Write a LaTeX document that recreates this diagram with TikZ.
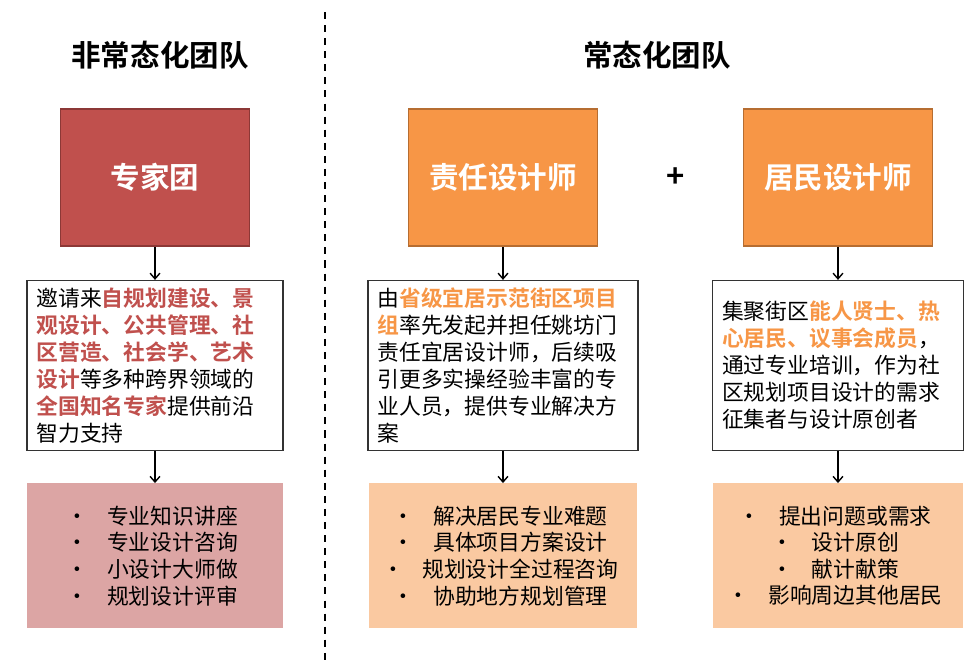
\documentclass[tikz,border=0pt]{standalone}
\usepackage{fontspec}
\setmainfont{Noto Sans CJK SC}[BoldFont={Noto Sans CJK SC Bold}]
\usetikzlibrary{positioning,arrows.meta}
\definecolor{teamred}{RGB}{192,80,77}
\definecolor{teamreddark}{RGB}{140,56,54}
\definecolor{teamorange}{RGB}{247,150,70}
\definecolor{teamorangedark}{RGB}{182,109,49}
\definecolor{teampink}{RGB}{220,165,164}
\definecolor{teampeach}{RGB}{250,201,161}
\newcommand{\hlred}[1]{\textbf{\color{teamred}#1}}
\newcommand{\hlorange}[1]{\textbf{\color{teamorange}#1}}
\newcommand{\bul}{\makebox[0.5em]{•}\hspace{1.1em}}

\begin{document}
\begin{tikzpicture}[x=0.025cm, y=-0.025cm,
    title/.style={font=\fontsize{21}{25}\selectfont\bfseries},
    rolebox/.style={fill=#1, minimum width=4.725cm, minimum height=3.425cm,
      text=white, font=\fontsize{21}{25}\selectfont\bfseries, line width=1.2pt},
    descbox/.style={draw=black!80, line width=0.8pt, fill=white, minimum height=4.25cm,
      inner xsep=0.24cm, align=left, font=\fontsize{15.5}{19.2}\selectfont},
    listbox/.style={fill=#1, minimum height=3.625cm, align=center,
      font=\fontsize{15.5}{18.9}\selectfont},
    flow/.style={-{Straight Barb[length=4pt,width=7pt]}, line width=1pt}]
  \useasboundingbox (0,0) rectangle (979,665);

  % separator
  \draw[line width=1.2pt, dash pattern=on 5pt off 4.3pt] (325,12) -- (325,665);

  % headings
  \node (titleA) at (160,55) [title] {非常态化团队};
  \node (titleB) at (657,55) [title] {常态化团队};

  % teams
  \node (expert) at (155,177.5) [rolebox=teamred, draw=teamreddark] {专家团};
  \node (duty) at (503,177.5) [rolebox=teamorange, draw=teamorangedark] {责任设计师};
  \node (resident) at (838,177.5) [rolebox=teamorange, draw=teamorangedark] {居民设计师};
  \node (plus) at (676,178) [font=\fontsize{22}{24}\selectfont\bfseries] {+};

  % descriptions
  \node (expertdesc) [descbox, text width=5.92cm, below=0.825cm of expert]
    {邀请来\hlred{自规划建设、景}\\\hlred{观设计、公共管理、社}\\\hlred{区营造、社会学、艺术}\\\hlred{设计}等多种跨界领域的\\\hlred{全国知名专家}提供前沿\\智力支持};
  \node (dutydesc) [descbox, text width=6.27cm, below=0.825cm of duty]
    {由\hlorange{省级宜居示范街区项目}\\\hlorange{组}率先发起并担任姚坊门\\责任宜居设计师，后续吸\\引更多实操经验丰富的专\\业人员，提供专业解决方\\案};
  \node (residentdesc) [descbox, text width=5.795cm, below=0.825cm of resident]
    {集聚街区\hlorange{能人贤士、热}\\\hlorange{心居民、议事会成员}，\\通过专业培训，作为社\\区规划项目设计的需求\\征集者与设计原创者};

  % roles
  \node (expertlist) [listbox=teampink, minimum width=6.375cm, below=0.8cm of expertdesc]
    {\bul 专业知识讲座\\\bul 专业设计咨询\\\bul 小设计大师做\\\bul 规划设计评审};
  \node (dutylist) [listbox=teampeach, minimum width=6.7cm, below=0.8cm of dutydesc]
    {\bul 解决居民专业难题\\\bul 具体项目方案设计\\\bul 规划设计全过程咨询\\\bul 协助地方规划管理};
  \node (residentlist) [listbox=teampeach, minimum width=6.25cm, below=0.8cm of residentdesc]
    {\bul 提出问题或需求\\\bul 设计原创\\\bul 献计献策\\\bul 影响周边其他居民};

  \draw[flow] (expert) -- (expertdesc);
  \draw[flow] (expertdesc) -- (expertlist);
  \draw[flow] (duty) -- (dutydesc);
  \draw[flow] (dutydesc) -- (dutylist);
  \draw[flow] (resident) -- (residentdesc);
  \draw[flow] (residentdesc) -- (residentlist);
\end{tikzpicture}
\end{document}
